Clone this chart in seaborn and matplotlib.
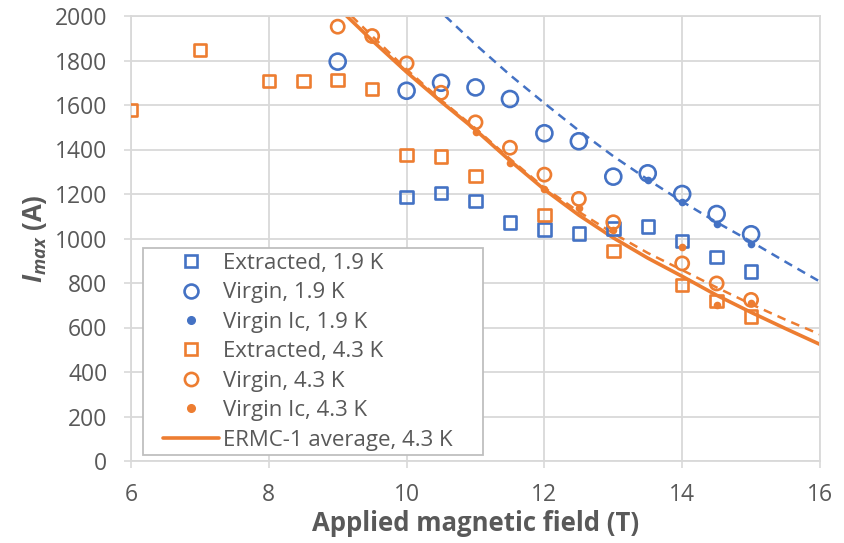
import matplotlib
matplotlib.use("Agg")
import matplotlib.pyplot as plt
from matplotlib.lines import Line2D
from matplotlib.legend_handler import HandlerLine2D
import seaborn as sns

# ---------------- data ----------------
ext19_x = [10, 10.5, 11, 11.5, 12, 12.5, 13, 13.5, 14, 14.5, 15]
ext19_y = [1186, 1204, 1168, 1073, 1041, 1023, 1045, 1053, 989, 917, 851]

vir19_x = [9, 10, 10.5, 11, 11.5, 12, 12.5, 13, 13.5, 14, 14.5, 15]
vir19_y = [1795, 1664, 1700, 1679, 1627, 1473, 1437, 1278, 1293, 1200, 1110, 1019]

ic19_x = [13.5, 14, 14.5, 15]
ic19_y = [1263, 1163, 1065, 975]

ext43_x = [6, 7, 8, 8.5, 9, 9.5, 10, 10.5, 11, 12, 13, 14, 14.5, 15]
ext43_y = [1578, 1847, 1708, 1708, 1712, 1672, 1375, 1368, 1282, 1106, 944, 791, 719, 649]

vir43_x = [9, 9.5, 10, 10.5, 11, 11.5, 12, 12.5, 13, 14, 14.5, 15]
vir43_y = [1952, 1910, 1787, 1655, 1522, 1408, 1287, 1178, 1073, 888, 798, 724]

ic43_x = [11, 11.5, 12, 12.5, 13, 14, 14.5, 15]
ic43_y = [1477, 1338, 1222, 1135, 1038, 960, 701, 712]

# fit curves
fit19_x = [10.56, 11, 11.5, 12, 12.5, 13, 13.5, 14, 14.5, 15, 15.5, 16]
fit19_y = [2000, 1872, 1735, 1608, 1485, 1370, 1265, 1166, 1073, 986, 895, 806]

fit43_x = [9.2, 9.5, 10, 10.5, 11, 11.5, 12, 12.5, 13, 13.5, 14, 14.5, 15, 15.5, 16]
fit43_y = [2000, 1910, 1760, 1622, 1495, 1358, 1228, 1120, 1023, 935, 858, 780, 705, 635, 569]

avg43_x = [9.13, 9.5, 10, 10.5, 11, 11.5, 12, 12.5, 13, 13.5, 14, 14.5, 15, 15.5, 16]
avg43_y = [2000, 1890, 1748, 1615, 1488, 1350, 1220, 1105, 1003, 912, 830, 745, 668, 595, 524]

labels = ["Extracted, 1.9 K", "Virgin, 1.9 K", "Virgin Ic, 1.9 K",
          "Extracted, 4.3 K", "Virgin, 4.3 K", "Virgin Ic, 4.3 K",
          "ERMC-1 average, 4.3 K"]
xticks = [6, 8, 10, 12, 14, 16]
yticks = list(range(0, 2001, 200))

BLUE = "#4472C4"
ORANGE = "#ED7D31"
GRAY = "#595959"
GRID = "#D9D9D9"

sns.set_theme(style="white")
FONT = "Open Sans"
plt.rcParams["font.family"] = [FONT, "DejaVu Sans"]
plt.rcParams["mathtext.fontset"] = "custom"
plt.rcParams["mathtext.it"] = FONT + ":italic:bold"
plt.rcParams["mathtext.rm"] = FONT + ":bold"
plt.rcParams["mathtext.bf"] = FONT + ":bold"

fig = plt.figure(figsize=(8.44, 5.43), dpi=100)
ax = fig.add_axes([131 / 844, 1 - 461 / 543, 689 / 844, 445 / 543])

ax.set_axisbelow(True)
ax.grid(True, color=GRID, linewidth=1.3)

# lines
sns.lineplot(x=fit19_x, y=fit19_y, ax=ax, color=BLUE, linestyle=(0, (3.5, 2.5)), lw=1.8, zorder=2)
sns.lineplot(x=fit43_x, y=fit43_y, ax=ax, color=ORANGE, linestyle=(0, (3.5, 2.5)), lw=1.8, zorder=2)
sns.lineplot(x=avg43_x, y=avg43_y, ax=ax, color=ORANGE, lw=2.6, zorder=2)

def open_markers(x, y, color, marker, size):
    sns.scatterplot(x=x, y=y, ax=ax, marker=marker, s=size ** 2, facecolor="none",
                    edgecolor=color, linewidth=1.9, zorder=3)

def dots(x, y, color, size):
    sns.scatterplot(x=x, y=y, ax=ax, marker="o", s=size ** 2, color=color,
                    edgecolor=color, linewidth=0, zorder=4)

open_markers(ext19_x, ext19_y, BLUE, "s", 9.0)
open_markers(vir19_x, vir19_y, BLUE, "o", 11.5)
dots(ic19_x, ic19_y, BLUE, 5.5)
open_markers(ext43_x, ext43_y, ORANGE, "s", 9.0)
open_markers(vir43_x, vir43_y, ORANGE, "o", 9.5)
dots(ic43_x, ic43_y, ORANGE, 5.5)

ax.set_xlim(6, 16)
ax.set_ylim(0, 2000)
ax.set_xticks(xticks)
ax.set_yticks(yticks)
ax.tick_params(axis="both", labelsize=16.5, colors=GRAY, length=5, width=1.2,
               direction="out", left=True, bottom=True, color=GRID)
ax.tick_params(axis="y", pad=12)
ax.tick_params(axis="x", pad=11)
for sp in ax.spines.values():
    sp.set_color(GRID)
    sp.set_linewidth(1.3)

ax.set_xlabel("Applied magnetic field (T)", fontsize=18.5, fontweight="bold", color=GRAY, labelpad=2)
ax.set_ylabel(r"$I_{max}$ (A)", fontsize=18.5, fontweight="bold", color=GRAY, labelpad=4)

handles = [
    Line2D([], [], ls="", marker="s", ms=9, mfc="none", mec=BLUE, mew=1.9),
    Line2D([], [], ls="", marker="o", ms=10, mfc="none", mec=BLUE, mew=1.9),
    Line2D([], [], ls="", marker="o", ms=5.5, mfc=BLUE, mec=BLUE),
    Line2D([], [], ls="", marker="s", ms=9, mfc="none", mec=ORANGE, mew=1.9),
    Line2D([], [], ls="", marker="o", ms=9.5, mfc="none", mec=ORANGE, mew=1.9),
    Line2D([], [], ls="", marker="o", ms=5.5, mfc=ORANGE, mec=ORANGE),
    Line2D([], [], color=ORANGE, lw=2.6),
]
leg = ax.legend(handles, labels, loc="lower left",
                bbox_to_anchor=(12 / 689, 6 / 445, 340 / 689, 0.3), mode="expand",
                borderaxespad=0, fontsize=16, frameon=True, fancybox=False,
                edgecolor="#BFBFBF", framealpha=1, handlelength=3.22,
                handletextpad=0.18, labelspacing=0.38, borderpad=0.2,
                handler_map={Line2D: HandlerLine2D(xpad=0.7)})
leg.get_frame().set_linewidth(1.3)
for t in leg.get_texts():
    t.set_color(GRAY)

fig.savefig("out.png", dpi=100)
